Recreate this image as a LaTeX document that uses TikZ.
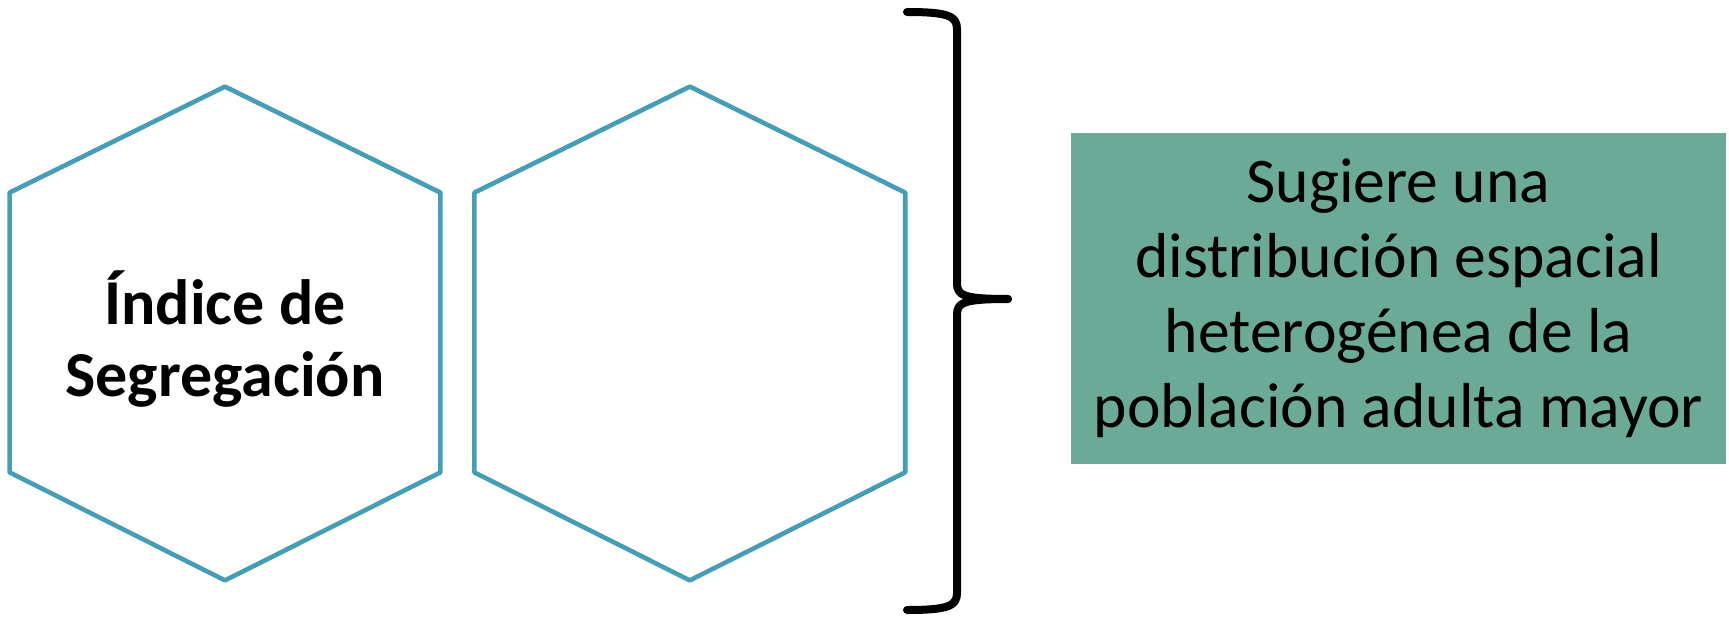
\documentclass[tikz,border=0pt]{standalone}
\usepackage{fontspec}
\setmainfont{Carlito}
\usepackage{xcolor}
\usetikzlibrary{positioning, calc}

\definecolor{hexblue}{HTML}{469EB6}
\definecolor{boxgreen}{HTML}{6AAA96}

\begin{document}
\begin{tikzpicture}[
      x=0.5pt, y=0.5pt,
      node distance=17pt,
      hexa/.style={
        minimum width=215pt,
        minimum height=246.5pt,
        inner sep=0pt,
        text depth=0pt,
        align=center,
        font=\fontsize{32}{36}\selectfont\bfseries
      },
      hexline/.style={
        draw=hexblue,
        line width=2.3pt,
        line join=round
      },
      result/.style={
        fill=boxgreen,
        minimum width=327.5pt,
        minimum height=165.5pt,
        inner sep=0pt,
        align=center,
        font=\fontsize{31.8}{37.5}\selectfont
      },
      bracket/.style={
        line width=4pt,
        line cap=round,
        line join=round
      }
    ]

    \useasboundingbox (0,0) rectangle (1729,617);

    \node[hexa] (indice) at (225,283.5) {\'Indice de\\Segregaci\'on};
    \node[hexa, right=of indice] (vacio) {};

    % hexagon outlines from the node corners
    \foreach \h in {indice, vacio} {
      \draw[hexline] (\h.north)
        -- ([yshift=-53pt]\h.north east)
        -- ([yshift=54pt]\h.south east)
        -- (\h.south)
        -- ([yshift=54pt]\h.south west)
        -- ([yshift=-53pt]\h.north west)
        -- cycle;
    }

    \node[result] (sugiere) at (1398.5,318.5) {
      Sugiere una\\
      distribuci\'on espacial\\
      heterog\'enea de la\\
      poblaci\'on adulta mayor
    };

    % closing brace
    \coordinate (tip) at (1008,318);
    \draw[bracket] (907,605) .. controls (948,605) and (957,601) .. (957,588)
      -- (957,334) .. controls (957,322) and (962,318) .. (tip);
    \draw[bracket] (907,7) .. controls (948,7) and (957,11) .. (957,24)
      -- (957,302) .. controls (957,314) and (962,318) .. (tip);

\end{tikzpicture}
\end{document}
